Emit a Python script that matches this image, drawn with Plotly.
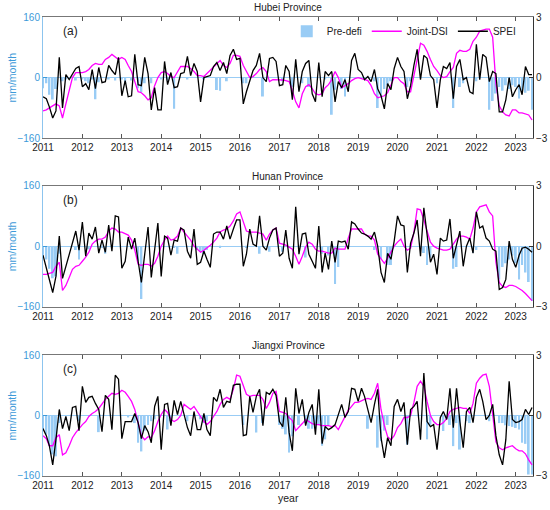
import plotly.graph_objects as go
import pandas as pd

# monthly series, Jan 2011 - Jun 2023
months = pd.date_range("2011-01-01", periods=150, freq="MS")
year_ticks = [str(y) for y in range(2011, 2024)]
provinces = ["Hubei Province", "Hunan Province", "Jiangxi Province"]
panel_tags = ["(a)", "(b)", "(c)"]

# ---- Hubei ----
hubei_spei = [
    -0.95, -1.05, -1.45, -2.0, -1.65, 1.0, -1.5, 0.15, -0.1, 0.2, 0.45, 0.55,
    -0.45, -0.3, -0.6, 0.4, -0.55, 0.5, -0.25, -0.2, 0.6, 0.35, 0.15, 1.0,
    -0.9, -0.15, -0.95, -0.9, 1.15, -0.35, -0.4, 1.0, 0.2, -1.6, -0.5, -1.6,
    -1.6, 0.8, -0.35, 0.25, -0.5, -0.45, 0.2, 0.25, 1.05, 0.1, 0.7, 0.3,
    -1.2, 0.0, 0.05, 0.1, 0.55, 0.75, 0.35, 0.75, 0.2, 1.1, 1.4, 0.9,
    0.95, -1.3, -0.7, -0.2, 0.35, 0.6, 1.2, 0.0, -0.2, 0.95, 1.0, 0.8,
    -0.4, -0.35, 0.6, 0.3, -1.1, 0.9, -0.7, 0.3, 0.7, 0.85, -0.8, -1.2,
    0.75, -0.95, 0.3, 0.1, 0.3, -1.2, -0.2, -0.5, -0.1, -0.7, 0.85, 1.2,
    0.4, 0.25, -0.1, 0.05, -0.2, 0.4, -0.55, -0.9, -1.55, -0.3, -0.6, 0.45,
    1.0, 0.55, 0.3, -1.05, -0.4, 0.6, 1.4, -0.1, 1.1, 0.95, 0.1, -0.1,
    -1.5, -0.1, 0.55, 0.45, 0.75, -1.05, 0.55, 0.9, -0.1, 0.0, -0.7, -0.8,
    1.65, -0.1, 1.15, 1.0, -0.2, 0.3, 0.2, -1.7, -1.7, -1.1, 0.0, -0.95,
    -0.6, -0.35, -0.85, 0.55, 0.15, 0.15,
]
hubei_dsi = [
    -1.65, -1.6, -1.5, -1.4, -1.3, -1.4, -2.0, -1.3, -0.6, 0.0, 0.25, 0.25,
    0.25, 0.3, 0.4, 0.6, 0.7, 0.65, 0.65, 0.9, 1.0, 1.15, 1.0, 0.9,
    1.0, 0.9, 0.6, 0.3, -0.2, -0.7, -0.75, -0.9, -1.1, -1.0, -0.4, 0.0,
    0.25, 0.3, 0.2, 0.05, 0.0, 0.3, 0.55, 0.55, 0.55, 0.45, 0.3, 0.1,
    0.1, 0.05, 0.2, 0.35, 0.5, 0.7, 0.85, 0.6, 0.5, 0.7, 1.1, 1.1,
    1.05, 0.6, 0.3, 0.0, 0.05, 0.2, 0.4, 0.5, 0.3, -0.2, -0.1, -0.1,
    -0.1, -0.12, -0.15, -0.2, -0.65, -1.2, -1.5, -0.8, -0.45, -0.35, -0.55, -0.8,
    -0.85, -0.8, -0.5, -0.35, -0.1, 0.3, 0.0, -0.5, -0.4, -0.3, -0.15, -0.05,
    0.0, -0.05, -0.1, -0.15, -0.4, -0.8, -1.0, -0.95, -0.9, -0.75, -0.4, 0.0,
    0.0, -0.2, -0.3, -0.7, -0.7, 0.1, 1.0, 1.7, 1.6, 1.3, 0.9, 0.55,
    0.35, 0.1, 0.0, 0.05, 0.3, 0.5, 1.2, 1.35, 1.3, 1.3, 1.4, 1.8,
    2.0, 2.3, 2.35, 2.4, 2.4, 2.0, -0.3, -1.4, -1.7, -1.85, -1.9, -1.6,
    -1.6, -1.75, -1.75, -1.8, -1.85, -2.1,
]
hubei_pre = [
    -28, -15, -45, -58, -30, 0, -10, -5, 0, 0, -8, 0,
    -5, -10, -15, -5, -57, -12, 0, 0, -5, 0, -8, 0,
    -5, -15, 0, -8, 0, -28, -38, -15, 0, -15, 0, 0,
    -5, 0, -8, 0, -82, 0, 0, 0, -5, 0, 0, 0,
    0, -5, 0, 0, 0, -33, -35, 0, -10, 0, 0, 0,
    0, -15, -15, 0, 0, 0, 0, -50, 0, 0, 0, 0,
    0, -10, 0, 0, -24, 0, 0, -15, 0, -25, 0, 0,
    0, 0, -5, 0, -98, -32, 0, -30, -50, 0, 0, 0,
    0, 0, 0, 0, 0, -10, -80, -50, -30, -20, -10, 0,
    0, 0, 0, -25, -10, 0, 0, 0, 0, 0, 0, 0,
    -15, 0, 0, 0, 0, -80, 0, -25, -15, 0, 0, 0,
    -10, 0, 0, 0, -85, -62, -42, -25, -35, -20, -30, -20,
    -25, -55, -35, -40, -35, -85,
]

# ---- Hunan ----
hunan_spei = [
    -0.45, -1.1, -1.6, -2.3, -1.5, 0.5, -1.6, -1.0, -0.5, 0.2, 0.75, -0.2,
    1.2, -0.5, 0.65, 0.35, 0.95, -0.35, 0.3, -0.3, 1.05, -0.25, 1.5, 1.45,
    -1.1, -0.75, 0.45, -0.15, 0.4, -0.75, -1.8, -0.4, 0.95, -1.55, -0.15, 1.15,
    -1.5, 0.5, 0.4, -0.45, 0.3, 0.25, 0.9, 0.8, -0.25, -0.6, 0.85, -0.9,
    -0.8, -0.25, -0.65, -1.05, 0.6, 0.7, 0.7, 0.35, 1.0, 0.35, 0.85, 1.3,
    1.3, -1.0, -0.4, 0.85, 0.1, 0.0, 1.5, 0.0, -0.2, 0.4, 0.8, 0.9,
    -0.5, -0.35, 0.8, -0.6, -1.1, 1.95, -0.4, 0.6, 0.65, -0.4, -0.75, -1.1,
    1.0, -1.3, -0.35, -1.15, 0.25, -0.8, 0.25, 0.2, 0.25, -0.15, 1.2, 1.1,
    0.85, 0.65, 0.6, 0.5, 0.35, 0.7, 0.0, -1.3, -1.8, -0.35, -0.65, 0.25,
    1.5, 1.05, 1.0, -1.3, 0.15, 0.65, 1.3, -0.5, 1.9, 0.5, -0.8, -0.4,
    -1.4, 0.4, 0.25, 0.3, 1.35, -0.6, 0.0, 0.75, -1.0, 0.0, 0.4, -0.35,
    1.7, 0.9, 1.0, 0.4, 0.25, -0.15, -0.25, -2.15, -2.05, -1.65, 0.25, -0.65,
    -1.05, -0.45, -0.1, -0.05, -0.15, -0.3,
]
hunan_dsi = [
    -1.4, -1.4, -1.35, -1.3, -1.0, -0.8, -2.2, -1.95, -1.55, -1.15, -1.0, -0.95,
    -0.75, -0.55, -0.3, 0.1, 0.25, 0.35, 0.35, 0.45, 0.75, 0.9, 0.85, 0.7,
    0.7, 0.6, 0.55, 0.3, -0.2, -0.9, -0.95, -0.9, -0.9, -1.0, -0.85, -0.5,
    0.0, 0.3, 0.5, 0.3, 0.35, 0.5, 0.9, 0.7, 0.5, 0.3, 0.0, -0.15,
    -0.3, -0.2, -0.1, 0.05, 0.2, 0.4, 0.7, 0.8, 0.85, 1.0, 1.25, 1.6,
    1.7, 1.2, 0.75, 0.7, 0.7, 0.7, 0.65, 0.6, 0.3, 0.6, 0.8, 0.9,
    0.15, 0.1, 0.05, -0.05, -0.15, -0.5, -0.9, -0.5, -0.05, 0.2, 0.1, -0.15,
    -0.25, -0.25, -0.3, -0.35, -0.35, -0.1, -0.15, -0.15, -0.15, 0.4, 0.85, 0.85,
    0.85, 0.85, 0.6, 0.5, 0.5, 0.3, -0.4, -0.6, -0.85, -0.6, -0.3, 0.0,
    0.2, 0.35, 0.0, -0.2, -0.1, 0.7, 1.85, 1.8, 1.3, 0.75, 0.2, 0.0,
    -0.1, -0.15, -0.2, -0.2, -0.15, 0.1, 0.35, 0.5, 0.5, 0.45, 0.35, 0.9,
    1.7, 1.95, 2.0, 2.05, 1.7, 1.5, -0.8, -1.8, -2.0, -2.05, -1.95, -1.95,
    -2.0, -2.1, -2.2, -2.35, -2.5, -2.7,
]
hunan_pre = [
    -25, -35, -60, -85, -80, -20, 0, 0, 0, 0, -10, -35,
    0, 0, -8, 0, 0, 0, -5, -20, 0, 0, 0, 0,
    0, 0, 0, 0, -5, -40, -140, 0, 0, 0, 0, 0,
    0, 0, 0, 0, -5, -20, 0, 0, 0, 0, 0, -10,
    -15, -20, -10, 0, 0, 0, -5, 0, 0, 0, 0, 0,
    0, 0, -5, 0, 0, 0, -20, 0, 0, -15, 0, 0,
    0, -15, 0, 0, 0, 0, 0, 0, -30, 0, 0, 0,
    0, -20, 0, -25, 0, -100, -55, 0, 0, 0, 0, 0,
    0, 0, 0, 0, 0, -10, 0, -35, 0, -50, -50, 0,
    0, 0, 0, 0, 0, 0, 0, 0, -18, -50, -30, 0,
    0, 0, 0, 0, 0, -60, -55, 0, 0, 0, 0, -18,
    -10, 0, 0, 0, 0, 0, 0, -88, -55, -45, -35, -25,
    -45, -88, -50, -70, -95, -145,
]

# ---- Jiangxi ----
jiangxi_spei = [
    -0.65, -1.0, -1.5, -2.45, -1.2, 0.3, -0.65, -0.05, -0.75, 0.4, 0.45, -0.75,
    1.45, 0.65, 0.9, 0.95, 0.6, 0.3, -0.8, 1.0, 0.8, -0.7, 2.0, 1.8,
    -1.15, -0.3, -0.3, -0.3, 0.1, -0.35, -1.15, -0.5, -0.8, -1.35, 0.45, 0.95,
    -1.7, 0.55, 0.6, -0.5, 0.75, 0.05, 0.7, 0.0, -0.6, -1.0, 0.2, -0.7,
    -0.7, 0.1, -0.7, -1.0, 0.9, 0.7, 1.3, 0.4, 0.7, 0.65, 1.5, 1.55,
    1.55, -1.0, -0.95, 0.95, 0.15, 0.95, 1.3, -0.5, 1.15, 1.05, 1.3, 1.0,
    -0.3, -0.55, 0.9, -0.85, -1.75, 1.35, 0.1, 0.8, -0.5, 0.15, 0.55, -0.95,
    1.3, -1.4, -0.55, -0.7, -0.6, -0.45, 0.0, 0.55, -0.1, 0.2, 1.35, 1.3,
    0.7, 1.35, 0.95, 0.3, -0.35, 0.55, 1.3, -1.1, -2.1, -1.1, -1.5, 0.45,
    0.8, 0.2, 0.65, -1.45, 0.3, 0.45, 0.7, -1.2, 2.1, -0.3, -0.55, -0.45,
    -1.7, -0.1, 0.2, -0.2, 1.35, -0.6, 1.35, -0.3, -1.6, 0.2, 0.4, -0.35,
    0.9, 1.3, 0.7, -0.2, 0.0, 0.55, -1.0, -1.95, -2.45, -1.2, 1.7, -0.2,
    -0.35, -0.3, -0.2, 0.3, 0.05, 0.4,
]
jiangxi_dsi = [
    -1.0, -1.15, -1.5, -1.5, -1.1, -0.95, -1.95, -1.85, -1.5, -1.1, -0.85, -0.65,
    -0.45, -0.3, -0.05, 0.1, 0.2, 0.35, 0.6, 0.8, 0.95, 1.1, 1.05, 1.1,
    1.25, 1.15, 0.95, 0.7, 0.3, -0.3, -1.0, -1.2, -1.05, -1.1, -0.75, -0.3,
    0.05, 0.3, 0.15, -0.2, -0.3, -0.2, 0.0, 0.55, 0.4, 0.3, 0.45, 0.2,
    -0.1, -0.3, -0.45, -0.3, -0.05, 0.2, 0.55, 0.8, 0.9, 0.8, 1.3, 2.0,
    1.95, 1.45, 1.05, 0.95, 1.0, 1.0, 1.0, 0.8, 0.35, 0.65, 1.1, 1.2,
    0.2, 0.15, 0.1, -0.1, -0.25, -0.75, -0.55, -0.4, -0.2, -0.3, -0.4, -0.45,
    -0.45, -0.5, -0.5, -0.5, -0.55, -0.5, -0.7, -0.4, -0.05, 0.25, 0.45, 0.65,
    0.65, 0.75, 0.8, 0.85, 0.8, 1.1, 1.6, 0.3, -0.5, -1.05, -1.2, -1.0,
    -0.6, -0.4, -0.1, -0.1, 0.0, 0.65, 1.45, 1.7, 1.45, 0.7, 0.0, -0.3,
    -0.45, -0.45, -0.35, -0.15, 0.2, 0.3, 0.35, 0.4, 0.35, 0.35, 0.1, 0.6,
    1.6, 1.85, 2.0, 2.05, 1.45, 0.0, -1.3, -1.6, -1.7, -1.6, -1.55, -1.5,
    -1.65, -1.75, -1.75, -1.9, -2.2, -2.45,
]
jiangxi_pre = [
    -40, -50, -80, -103, -108, -20, 0, 0, 0, 0, 0, -15,
    0, 0, 0, 0, 0, -44, 0, 0, 0, 0, 0, 0,
    0, 0, -5, 0, -20, -72, -95, -40, -25, -15, -10, 0,
    0, 0, -37, -15, 0, 0, 0, 0, -15, 0, 0, 0,
    -10, -20, -15, 0, 0, 0, 0, 0, 0, 0, 0, 0,
    0, -25, 0, 0, 0, -45, 0, -20, 0, 0, 0, 0,
    -25, -35, -50, -98, -55, 0, -25, 0, -20, -35, -35, -35,
    -25, -80, -63, -25, 0, 0, 0, 0, 0, 0, 0, 0,
    0, 0, 0, -35, 0, 0, -85, -68, -40, -25, 0, 0,
    0, 0, 0, -77, 0, 0, 0, 0, 0, -63, -25, 0,
    0, 0, -41, 0, -25, -81, -20, -90, 0, -15, -20, 0,
    0, 0, 0, 0, -15, 0, 0, -20, -20, -26, -28, -30,
    -33, -37, -72, -75, -156, -156,
]

spei_sets = [hubei_spei, hunan_spei, jiangxi_spei]
dsi_sets = [hubei_dsi, hunan_dsi, jiangxi_dsi]
pre_sets = [hubei_pre, hunan_pre, jiangxi_pre]

BAR_BLUE = "#99ccf5"
AXIS_BLUE = "#3d9ad9"
FONT = "Liberation Sans, Arial, sans-serif"

# panel domains (paper fractions, bottom->top)
domains = [[0.736, 1.0], [0.369, 0.6325], [0.0, 0.2636]]

fig = go.Figure()

for k in range(3):
    xa = "x" if k == 0 else f"x{k + 1}"
    yl = f"y{2 * k + 1}" if k > 0 else "y"
    yr = f"y{2 * k + 2}"
    first = k == 0
    fig.add_trace(go.Bar(x=months, y=pre_sets[k], name="Pre-defi",
                         marker=dict(color=BAR_BLUE, line=dict(width=0)),
                         xaxis=xa, yaxis=yl, showlegend=first))
    fig.add_trace(go.Scatter(x=months, y=dsi_sets[k], name="Joint-DSI", mode="lines",
                             line=dict(color="#ff00ff", width=1.3),
                             xaxis=xa, yaxis=yr, showlegend=first))
    fig.add_trace(go.Scatter(x=months, y=spei_sets[k], name="SPEI", mode="lines",
                             line=dict(color="black", width=1.3),
                             xaxis=xa, yaxis=yr, showlegend=first))

layout = dict(
    width=550, height=510,
    margin=dict(l=43, r=17, t=17, b=34, autoexpand=False),
    paper_bgcolor="white", plot_bgcolor="white",
    font=dict(family=FONT, size=10, color="#222"),
    bargap=0.35,
    legend=dict(orientation="h", x=0.975, xanchor="right", y=0.969, yanchor="middle",
                bgcolor="rgba(0,0,0,0)", font=dict(size=10), itemwidth=30,
                tracegroupgap=0),
    annotations=[],
)

for k in range(3):
    xkey = "xaxis" if k == 0 else f"xaxis{k + 1}"
    ylkey = "yaxis" if k == 0 else f"yaxis{2 * k + 1}"
    yrkey = f"yaxis{2 * k + 2}"
    ylname = "y" if k == 0 else f"y{2 * k + 1}"
    xname = "x" if k == 0 else f"x{k + 1}"
    layout[xkey] = dict(
        domain=[0, 1], anchor=ylname, type="date", automargin=False,
        range=["2011-01-01", "2023-06-10"],
        tickvals=[f"{y}-01-01" for y in year_ticks], ticktext=year_ticks,
        ticks="inside", ticklen=4, tickcolor="#555", mirror="ticks",
        showline=True, linecolor="#777", linewidth=1, showgrid=False,
        tickfont=dict(size=10, color="#222"),
    )
    layout[ylkey] = dict(
        domain=domains[k], anchor=xname, range=[-160, 160], automargin=False,
        tickvals=[-160, 0, 160], ticks="inside", ticklen=4, tickcolor=AXIS_BLUE,
        showline=True, linecolor="#8cc4ee", linewidth=1, showgrid=False,
        zeroline=True, zerolinecolor="#99ccf5", zerolinewidth=1.2,
        tickfont=dict(size=10, color=AXIS_BLUE),
    )
    layout[yrkey] = dict(
        domain=domains[k], anchor=xname, overlaying=ylname, side="right",
        range=[-3, 3], tickvals=[-3, 0, 3], ticks="inside", ticklen=4,
        automargin=False,
        tickcolor="#333", showline=True, linecolor="#333", linewidth=1,
        showgrid=False, zeroline=False, tickfont=dict(size=10, color="#222"),
    )
    mid = (domains[k][0] + domains[k][1]) / 2
    layout["annotations"].append(dict(
        text="mm/month", xref="paper", yref="paper", x=0, y=mid, xshift=-31,
        xanchor="center", yanchor="middle", textangle=-90, showarrow=False,
        font=dict(size=10.5, color=AXIS_BLUE)))
    layout["annotations"].append(dict(
        text=provinces[k], xref="paper", yref="paper", x=0.5, y=domains[k][1],
        yshift=2, xanchor="center", yanchor="bottom", showarrow=False,
        font=dict(size=10, color="#222")))
    layout["annotations"].append(dict(
        text=panel_tags[k], xref="paper", yref="paper", x=0.056, y=domains[k][1],
        yshift=-14, xanchor="center", yanchor="middle", showarrow=False,
        font=dict(size=12, color="#222")))

layout["annotations"].append(dict(
    text="year", xref="paper", yref="paper", x=0.5, y=0, yshift=-22,
    xanchor="center", yanchor="middle", showarrow=False,
    font=dict(size=10.5, color="#222")))

fig.update_layout(**layout)
# drop the browser's default 8px body margin so the figure sits at the corner
fig.write_html("out.html", config={"displayModeBar": False},
               post_script="document.body.style.margin = '0';")
